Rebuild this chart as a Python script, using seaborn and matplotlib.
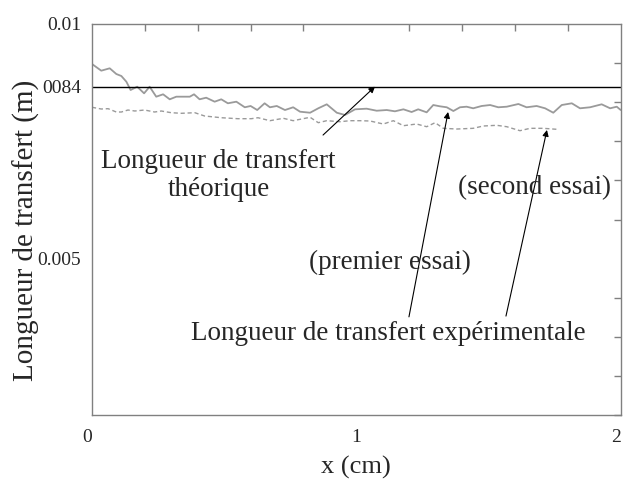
import numpy as np
import pandas as pd
import matplotlib
matplotlib.use("Agg")
import matplotlib.pyplot as plt
import seaborn as sns

# Mesures : longueur de transfert (m) en fonction de x (cm)
x_premier = [0.0, 0.035, 0.067, 0.092, 0.111, 0.130, 0.146, 0.171, 0.197, 0.218,
             0.243, 0.269, 0.294, 0.319, 0.344, 0.370, 0.386, 0.407, 0.432, 0.464,
             0.489, 0.514, 0.546, 0.578, 0.600, 0.625, 0.653, 0.673, 0.699, 0.730,
             0.761, 0.787, 0.825, 0.856, 0.888, 0.926, 0.957, 0.995, 1.039, 1.077,
             1.115, 1.146, 1.178, 1.209, 1.234, 1.266, 1.291, 1.316, 1.342, 1.367,
             1.392, 1.417, 1.442, 1.474, 1.506, 1.537, 1.569, 1.613, 1.644, 1.682,
             1.714, 1.745, 1.777, 1.815, 1.846, 1.884, 1.928, 1.960, 1.985, 2.0]
y_premier = [0.008977, 0.008806, 0.008867, 0.008721, 0.008670, 0.008524, 0.008312,
             0.008396, 0.008227, 0.008396, 0.008141, 0.008202, 0.008074, 0.008141,
             0.008141, 0.008141, 0.008202, 0.008074, 0.008115, 0.008013, 0.008074,
             0.007972, 0.008013, 0.007870, 0.007903, 0.007800, 0.007972, 0.007870,
             0.007903, 0.007800, 0.007870, 0.007757, 0.007731, 0.007844, 0.007946,
             0.007731, 0.007673, 0.007818, 0.007834, 0.007782, 0.007800, 0.007767,
             0.007818, 0.007749, 0.007818, 0.007741, 0.007928, 0.007895, 0.007870,
             0.007775, 0.007870, 0.007885, 0.007844, 0.007903, 0.007928, 0.007870,
             0.007885, 0.007954, 0.007870, 0.007903, 0.007844, 0.007731, 0.007928,
             0.007972, 0.007844, 0.007870, 0.007946, 0.007844, 0.007885, 0.007800]

x_second = [0.0, 0.035, 0.061, 0.092, 0.111, 0.136, 0.162, 0.199, 0.237, 0.262,
            0.300, 0.338, 0.389, 0.426, 0.489, 0.552, 0.603, 0.628, 0.673, 0.724,
            0.761, 0.825, 0.856, 0.888, 0.938, 0.976, 1.014, 1.052, 1.102, 1.140,
            1.178, 1.228, 1.266, 1.298, 1.329, 1.380, 1.442, 1.480, 1.531, 1.569,
            1.619, 1.657, 1.707, 1.758]
y_second = [0.007870, 0.007826, 0.007834, 0.007749, 0.007749, 0.007800, 0.007775,
            0.007800, 0.007749, 0.007775, 0.007731, 0.007716, 0.007731, 0.007647,
            0.007603, 0.007578, 0.007578, 0.007603, 0.007527, 0.007588, 0.007527,
            0.007614, 0.007476, 0.007527, 0.007501, 0.007527, 0.007527, 0.007519,
            0.007442, 0.007527, 0.007399, 0.007442, 0.007373, 0.007476, 0.007332,
            0.007314, 0.007332, 0.007391, 0.007409, 0.007373, 0.007271, 0.007332,
            0.007332, 0.007307]

# Longueur de transfert théorique
longueur_theorique = 0.0084

x_tick_values = [0, 1, 2]
x_tick_labels = ["0", "1", "2"]
y_tick_values = [0.01, 0.0084, 0.004]
y_tick_labels = ["0.01", "0084", "0.005"]

sns.set_style("white")
plt.rcParams["font.family"] = ["Liberation Serif", "DejaVu Serif"]

fig = plt.figure(figsize=(6.23, 4.84), dpi=100)
ax = fig.add_axes([92 / 623, 69 / 484, 528.7 / 623, 391 / 484])

df1 = pd.DataFrame({"x": x_premier, "y": y_premier})
df2 = pd.DataFrame({"x": x_second, "y": y_second})
sns.lineplot(data=df1, x="x", y="y", ax=ax, color="#9a9a9a", lw=1.3,
             estimator=None, sort=False)
sns.lineplot(data=df2, x="x", y="y", ax=ax, color="#9a9a9a", lw=1.0,
             estimator=None, sort=False, linestyle=(0, (3, 2)))
ax.axhline(longueur_theorique, color="black", lw=1.0)

ax.set_xlim(0, 2)
ax.set_ylim(0, 0.01)

# graduations
ax.set_xticks(x_tick_values, labels=x_tick_labels)
ax.set_xticks(np.arange(0, 2.01, 0.2), minor=True)
ax.set_yticks(y_tick_values, labels=y_tick_labels)
ax.set_yticks(np.arange(0, 0.01001, 0.001), minor=True)
ax.tick_params(which="both", direction="in", top=True, right=True,
               color="#808080", width=1.0)
ax.tick_params(which="minor", length=5)
ax.tick_params(which="major", length=0, labelsize=14, pad=8)
ax.tick_params(axis="x", which="major", pad=10)
xlabels = ax.get_xticklabels()
xlabels[0].set_horizontalalignment("right")
xlabels[-1].set_horizontalalignment("right")
for s in ax.spines.values():
    s.set_color("#808080")
    s.set_linewidth(1.0)

ax.set_xlabel("x (cm)", fontsize=19)
ax.xaxis.set_label_coords(0.5, -0.105)
ax.set_ylabel("Longueur de transfert (m)", fontsize=21)
ax.yaxis.set_label_coords(-0.098, 0.473)

arrow = dict(arrowstyle="-|>", color="black", lw=0.8, mutation_scale=9,
             shrinkA=0, shrinkB=0)
ax.annotate("", xy=(1.0706, longueur_theorique), xytext=(0.874, 0.00716),
            arrowprops=arrow)
ax.annotate("", xy=(1.347, 0.00775), xytext=(1.199, 0.00251),
            arrowprops=arrow)
ax.annotate("", xy=(1.721, 0.00729), xytext=(1.566, 0.00253),
            arrowprops=arrow)

fs = 19.5
fig.text(218 / 623, 1 - 161 / 484, "Longueur de transfert", fontsize=fs,
         ha="center", va="center")
fig.text(219 / 623, 1 - 190 / 484, "théorique", fontsize=fs,
         ha="center", va="center")
fig.text(535 / 623, 1 - 188 / 484, "(second essai)", fontsize=fs,
         ha="center", va="center")
fig.text(390 / 623, 1 - 262 / 484, "(premier essai)", fontsize=fs,
         ha="center", va="center")
fig.text(388 / 623, 1 - 333 / 484, "Longueur de transfert expérimentale",
         fontsize=fs, ha="center", va="center")

fig.savefig("out.png", dpi=100)
